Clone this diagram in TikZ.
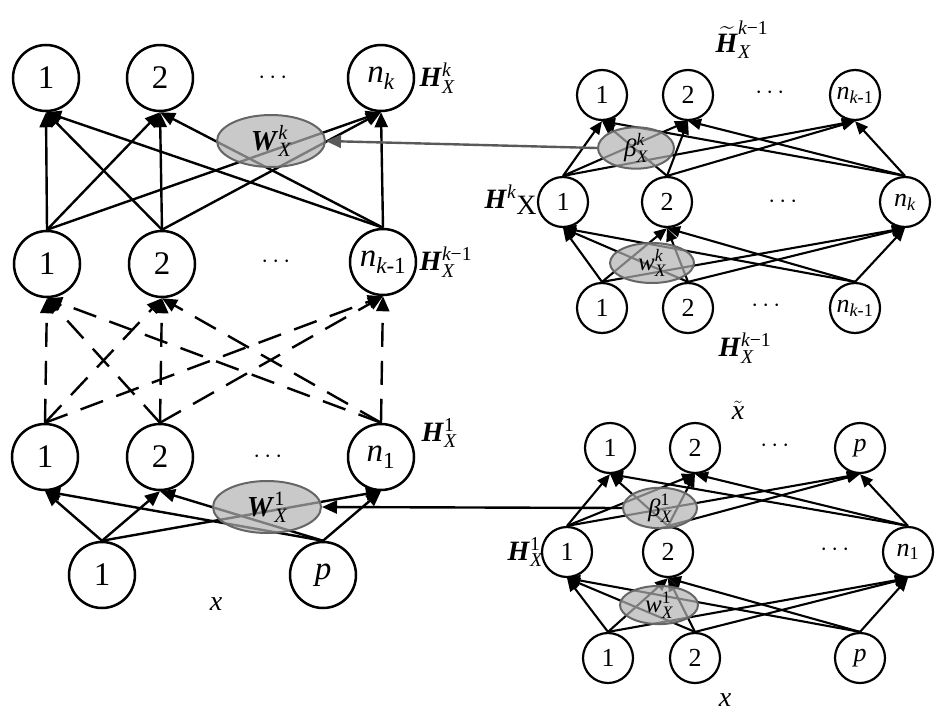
\documentclass[tikz,border=0pt]{standalone}
\usepackage{amsmath}
\usepackage{fontspec}
\setmainfont{Liberation Serif}
\usetikzlibrary{arrows.meta,shapes.geometric}

\newcommand{\bfit}[1]{\textbf{\textit{#1}}}

\begin{document}
\begin{tikzpicture}
[
x=1pt, y=-1pt,
unit/.style={circle, draw, line width=2.5pt, minimum size=66pt, inner sep=0pt, font=\fontsize{33}{33}\selectfont},
small unit/.style={unit, minimum size=50pt, line width=2.2pt, font=\fontsize{26}{26}\selectfont},
link/.style={line width=2.4pt, -{Triangle[length=15pt,width=13pt]}},
small link/.style={line width=2.1pt, -{Triangle[length=13pt,width=11pt]}},
dlink/.style={link, dash pattern=on 24pt off 14pt},
weight/.style={ellipse, draw=black!60, line width=2pt, fill=black!30, fill opacity=.7, text opacity=1, inner sep=0pt},
layer/.style={font=\fontsize{28}{28}\selectfont},
dots/.style={font=\fontsize{30}{30}\selectfont}
]
\useasboundingbox (0,0) rectangle (945,723);

% left network
\node[unit] (a1) at (46,78) {1};
\node[unit] (a2) at (160,78) {2};
\node[unit] (an) at (381,78) {$\textit{n}_{\textit{k}}$};
\node[dots] (adots) at (275,78) {$\cdots$};
\node[unit] (b1) at (47,264) {1};
\node[unit] (b2) at (162,264) {2};
\node[unit] (bn) at (383,262) {$\textit{n}_{\textit{k}\text{-1}}$};
\node[dots] (bdots) at (278,262) {$\cdots$};
\node[unit] (c1) at (45,457) {1};
\node[unit] (c2) at (160,457) {2};
\node[unit] (cn) at (381,457) {$\textit{n}_{\text{1}}$};
\node[dots] (cdots) at (270,457) {$\cdots$};
\node[unit] (d1) at (102,575) {1};
\node[unit] (dp) at (323,575) {$\textit{p}$};

\foreach \s in {b1,b2,bn}
  \foreach \t in {a1,a2,an}
    \draw[link] (\s.north) -- (\t.south);
\foreach \s in {c1,c2,cn}
  \foreach \t in {b1,b2,bn}
    \draw[dlink] (\s.north) -- (\t.south);
\foreach \s in {d1,dp}
  \foreach \t in {c1,c2,cn}
    \draw[link] (\s.north) -- (\t.south);

\node[weight, minimum width=108pt, minimum height=52pt, font=\fontsize{29}{29}\selectfont] (Wk) at (271,141) {$\bfit{W}_{\textit{X}}^{\textit{k}}$};
\node[weight, minimum width=108pt, minimum height=52pt, font=\fontsize{29}{29}\selectfont] (W1) at (267,507) {$\bfit{W}_{\textit{X}}^{\text{1}}$};

\node[layer, anchor=west] (Hk) at (416,78) {$\bfit{H}_{\textit{X}}^{\textit{k}}$};
\node[layer, anchor=west] (Hk1) at (416,262) {$\bfit{H}_{\textit{X}}^{\textit{k}\text{−1}}$};
\node[layer, anchor=west] (H1) at (418,433) {$\bfit{H}_{\textit{X}}^{\text{1}}$};
\node[layer] (xin) at (216,604) {$\textit{x}$};

% right top network
\node[small unit] (t1) at (602,95) {1};
\node[small unit] (t2) at (688,95) {2};
\node[small unit] (tn) at (855,95) {$\textit{n}_{\textit{k}\text{-1}}$};
\node[dots] (tdots) at (772,93) {$\cdots$};
\node[small unit] (m1) at (563,202) {1};
\node[small unit] (m2) at (667,202) {2};
\node[small unit] (mn) at (905,202) {$\textit{n}_{\textit{k}}$};
\node[dots] (mdots) at (785,202) {$\cdots$};
\node[small unit] (u1) at (602,308) {1};
\node[small unit] (u2) at (688,308) {2};
\node[small unit] (un) at (855,308) {$\textit{n}_{\textit{k}\text{-1}}$};
\node[dots] (udots) at (768,306) {$\cdots$};

\foreach \s in {m1,m2,mn}
  \foreach \t in {t1,t2,tn}
    \draw[small link] (\s.north) -- (\t.south);
\foreach \s in {u1,u2,un}
  \foreach \t in {m1,m2,mn}
    \draw[small link] (\s.north) -- (\t.south);

\node[weight, minimum width=76pt, minimum height=36pt, font=\fontsize{25}{25}\selectfont] (betak) at (636,148) {$\textit{β}_{\textit{X}}^{\textit{k}}$};
\node[weight, minimum width=84pt, minimum height=40pt, font=\fontsize{25}{25}\selectfont] (wk) at (652,263) {$\textit{w}_{\textit{X}}^{\textit{k}}$};

\node[layer] (Ht) at (742,40) {$\widetilde{\bfit{H}}_{\textit{X}}^{\textit{k}\text{−1}}$};
\node[layer, anchor=east] (Hkr) at (540,200) {$\bfit{H}^{\textit{k}}$\raisebox{-6pt}{X}};
\node[layer] (Hk1r) at (745,348) {$\bfit{H}_{\textit{X}}^{\textit{k}\text{−1}}$};

% right bottom network
\node[small unit] (r1) at (610,448) {1};
\node[small unit] (r2) at (695,448) {2};
\node[small unit] (rp) at (860,448) {$\textit{p}$};
\node[dots] (rdots) at (777,446) {$\cdots$};
\node[small unit] (s1) at (567,552) {1};
\node[small unit] (s2) at (668,552) {2};
\node[small unit] (sn) at (908,552) {$\textit{n}_{\text{1}}$};
\node[dots] (sdots) at (837,550) {$\cdots$};
\node[small unit] (q1) at (608,658) {1};
\node[small unit] (q2) at (695,658) {2};
\node[small unit] (qp) at (860,658) {$\textit{p}$};

\foreach \s in {s1,s2,sn}
  \foreach \t in {r1,r2,rp}
    \draw[small link] (\s.north) -- (\t.south);
\foreach \s in {q1,q2,qp}
  \foreach \t in {s1,s2,sn}
    \draw[small link] (\s.north) -- (\t.south);

\node[weight, minimum width=74pt, minimum height=36pt, font=\fontsize{25}{25}\selectfont] (beta1) at (660,508) {$\textit{β}_{\textit{X}}^{\text{1}}$};
\node[weight, minimum width=78pt, minimum height=36pt, font=\fontsize{25}{25}\selectfont] (w1) at (659,605) {$\textit{w}_{\textit{X}}^{\text{1}}$};

\node[layer] (xt) at (738,410) {$\tilde{\textit{x}}$};
\node[layer, anchor=east] (H1r) at (546,552) {$\bfit{H}_{\textit{X}}^{\text{1}}$};
\node[layer] (xr) at (725,700) {$\textit{x}$};

% shared weights
\draw[link, draw=black!65] (betak.west) -- (Wk.east);
\draw[link] (beta1.west) -- (W1.east);
\end{tikzpicture}
\end{document}
